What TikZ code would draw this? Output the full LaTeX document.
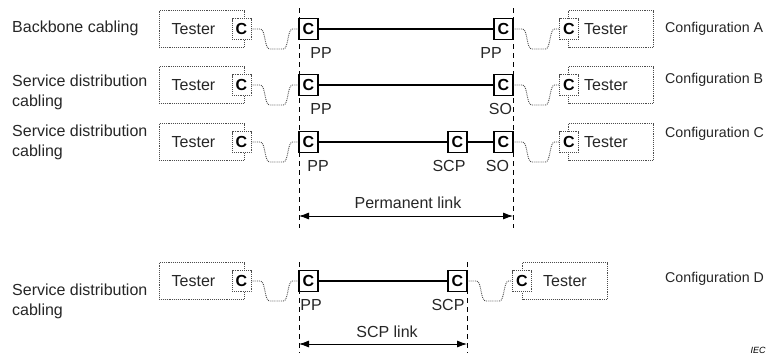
\documentclass[tikz,border=0pt]{standalone}
\usepackage{fontspec}
\setmainfont{Liberation Sans}
\usetikzlibrary{arrows.meta,positioning}

\tikzset{
  lbl/.style={font=\fontsize{16}{20}\selectfont, inner sep=0pt, text=black!85},
  cfg/.style={lbl, font=\fontsize{14.2}{18}\selectfont, anchor=base west},
  tester/.style={draw=black!70, densely dotted, line width=0.9pt, minimum width=85pt, minimum height=37pt, inner sep=0pt},
  jack/.style={draw, line width=1.1pt, minimum width=19pt, minimum height=21pt, inner sep=0pt, fill=white, font=\fontsize{16}{18}\selectfont\bfseries},
  plug/.style={jack, draw=black!70, densely dotted, line width=0.9pt},
  cable/.style={draw=black!70, densely dotted, line width=0.9pt,
    to path={-- ++(9,0) .. controls +(5,0) and +(-5,0) .. ++(9,20) -- ++(14,0) .. controls +(5,0) and +(-5,0) .. ++(9,-20) -- (\tikztotarget)}},
  link/.style={line width=1.1pt},
  bound/.style={line width=0.9pt, dash pattern=on 5pt off 4pt},
  linkspan/.style={{Latex[length=10pt,width=7pt]}-{Latex[length=10pt,width=7pt]}, line width=0.8pt}
}

\begin{document}
\begin{tikzpicture}[x=1pt,y=-1pt]
    \useasboundingbox (0,0) rectangle (771,356);

    % link boundaries
    \coordinate (bndL1) at (299,8);
    \coordinate (bndL2) at (299,228);
    \coordinate (bndR1) at (513,8);
    \coordinate (bndR2) at (513,228);
    \draw[bound] (bndL1) -- (bndL2);
    \draw[bound] (bndR1) -- (bndR2);

    % Configuration A
    \node[lbl, anchor=base west] (nameA) at (12,32) {Backbone cabling};
    \node[tester] (tstA1) at (201.5,29) {};
    \node[lbl] (tstA1t) at (193.5,29) {Tester};
    \node[plug] (plgA1) at (241.5,29) {C};
    \node[jack] (ppA) at (308.5,29) {C};
    \node[jack] (ppA2) at (503.5,29) {C};
    \node[tester] (tstA2) at (611,29) {};
    \node[plug] (plgA2) at (569,29) {C};
    \node[lbl] (tstA2t) at (606,29) {Tester};
    \node[lbl, anchor=base] (ppAl) at (321,58) {PP};
    \node[lbl, anchor=base] (ppA2l) at (491,58) {PP};
    \node[cfg] (cfgA) at (665,32) {Configuration A};
    \draw[link] (ppA) -- (ppA2);
    \draw[cable] (plgA1.east) to (ppA.west);
    \draw[cable] (ppA2.east) to (plgA2.west);

    % Configuration B
    \node[lbl, anchor=west, align=left] (nameB) at (12,92) {Service distribution\\cabling};
    \node[tester] (tstB1) at (201.5,85) {};
    \node[lbl] (tstB1t) at (193.5,85) {Tester};
    \node[plug] (plgB1) at (241.5,85) {C};
    \node[jack] (ppB) at (308.5,85) {C};
    \node[jack] (soB) at (503.5,85) {C};
    \node[tester] (tstB2) at (611,85) {};
    \node[plug] (plgB2) at (569,85) {C};
    \node[lbl] (tstB2t) at (606,85) {Tester};
    \node[lbl, anchor=base] (ppBl) at (321,114) {PP};
    \node[lbl, anchor=base] (soBl) at (500.5,114) {SO};
    \node[cfg] (cfgB) at (665,83) {Configuration B};
    \draw[link] (ppB) -- (soB);
    \draw[cable] (plgB1.east) to (ppB.west);
    \draw[cable] (soB.east) to (plgB2.west);

    % Configuration C
    \node[lbl, anchor=west, align=left] (nameC) at (12,142) {Service distribution\\cabling};
    \node[tester] (tstC1) at (201.5,142) {};
    \node[lbl] (tstC1t) at (193.5,142) {Tester};
    \node[plug] (plgC1) at (241.5,142) {C};
    \node[jack] (ppC) at (308.5,142) {C};
    \node[jack] (scpC) at (457.5,142) {C};
    \node[jack] (soC) at (503.5,142) {C};
    \node[tester] (tstC2) at (611,142) {};
    \node[plug] (plgC2) at (569,142) {C};
    \node[lbl] (tstC2t) at (606,142) {Tester};
    \node[lbl, anchor=base] (ppCl) at (318,171) {PP};
    \node[lbl, anchor=base] (scpCl) at (449,171) {SCP};
    \node[lbl, anchor=base] (soCl) at (497.5,171) {SO};
    \node[cfg] (cfgC) at (665,137) {Configuration C};
    \draw[link] (ppC) -- (scpC) -- (soC);
    \draw[cable] (plgC1.east) to (ppC.west);
    \draw[cable] (soC.east) to (plgC2.west);

    % permanent link
    \coordinate (plL) at (299,216);
    \coordinate (plR) at (513,216);
    \draw[linkspan] (plL) -- (plR);
    \node[lbl, anchor=base] (plText) at (408,208) {Permanent link};

    % Configuration D
    \coordinate (bndD1) at (299,262);
    \coordinate (bndD2) at (299,353);
    \coordinate (bndD3) at (467,262);
    \coordinate (bndD4) at (467,353);
    \draw[bound] (bndD1) -- (bndD2);
    \draw[bound] (bndD3) -- (bndD4);
    \node[lbl, anchor=west, align=left] (nameD) at (12,301) {Service distribution\\cabling};
    \node[tester] (tstD1) at (201.5,281) {};
    \node[lbl] (tstD1t) at (193.5,281) {Tester};
    \node[plug] (plgD1) at (241.5,281) {C};
    \node[jack] (ppD) at (308.5,281) {C};
    \node[jack] (scpD) at (457.5,281) {C};
    \node[tester] (tstD2) at (565,281) {};
    \node[plug] (plgD2) at (522,281) {C};
    \node[lbl] (tstD2t) at (565,281) {Tester};
    \node[lbl, anchor=base] (ppDl) at (311,310) {PP};
    \node[lbl, anchor=base] (scpDl) at (448,310) {SCP};
    \node[cfg] (cfgD) at (665,282) {Configuration D};
    \draw[link] (ppD) -- (scpD);
    \draw[cable] (plgD1.east) to (ppD.west);
    \draw[cable] (scpD.east) to (plgD2.west);

    % SCP link
    \coordinate (slL) at (299,344);
    \coordinate (slR) at (467,344);
    \draw[linkspan] (slL) -- (slR);
    \node[lbl, anchor=base] (slText) at (387,337) {SCP link};

    \node[font=\fontsize{9}{10}\selectfont\itshape, inner sep=0pt] (iec) at (758,350) {IEC};
\end{tikzpicture}
\end{document}
